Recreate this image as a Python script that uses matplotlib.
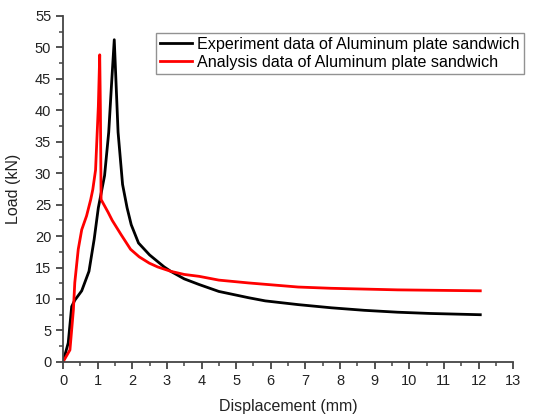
import numpy as np
import matplotlib.pyplot as plt
from matplotlib.ticker import MultipleLocator

plt.rcParams['font.family'] = ['Liberation Sans', 'DejaVu Sans']

# experiment (black)
exp_x = [0.0, 0.15, 0.25, 0.34, 0.54, 0.75, 0.90, 1.02, 1.20, 1.32, 1.40, 1.48,
         1.59, 1.72, 1.85, 1.97, 2.18, 2.50, 2.92, 3.11, 3.50, 3.93, 4.5, 5.36,
         5.84, 6.8, 7.75, 8.7, 9.66, 10.6, 12.05]
exp_y = [0.0, 3.0, 8.8, 9.8, 11.3, 14.4, 19.5, 24.5, 29.6, 36.5, 44.0, 51.2,
         36.5, 28.2, 24.5, 21.8, 18.9, 17.0, 15.1, 14.4, 13.2, 12.3, 11.2, 10.2,
         9.7, 9.1, 8.6, 8.2, 7.9, 7.7, 7.5]

# analysis (red)
ana_x = [0.0, 0.20, 0.30, 0.34, 0.44, 0.54, 0.68, 0.80, 0.86, 0.94, 1.02, 1.06,
         1.08, 1.10, 1.30, 1.42, 1.68, 1.95, 2.20, 2.49, 2.73, 3.11, 3.50, 3.93,
         4.5, 5.36, 6.79, 7.74, 9.66, 12.05]
ana_y = [0.0, 1.9, 8.3, 12.6, 17.9, 21.0, 23.2, 25.8, 27.4, 30.5, 40.6, 48.8,
         40.0, 25.8, 23.8, 22.5, 20.2, 17.9, 16.7, 15.7, 15.1, 14.4, 13.9, 13.6,
         13.0, 12.55, 11.9, 11.7, 11.45, 11.3]

fig = plt.figure(figsize=(5.34, 4.16), dpi=100)
ax = fig.add_axes([0.118, 0.130, 0.843, 0.832])

ax.plot(exp_x, exp_y, color='black', lw=2, label='Experiment data of Aluminum plate sandwich')
ax.plot(ana_x, ana_y, color='red', lw=2, label='Analysis data of Aluminum plate sandwich')

ax.set_xlim(0, 13)
ax.set_ylim(0, 55)
ax.xaxis.set_major_locator(MultipleLocator(1))
ax.xaxis.set_minor_locator(MultipleLocator(0.5))
ax.yaxis.set_major_locator(MultipleLocator(5))
ax.yaxis.set_minor_locator(MultipleLocator(2.5))
ax.spines['top'].set_visible(False)
ax.spines['right'].set_visible(False)
for s in ('left', 'bottom'):
    ax.spines[s].set_color('#444444')
    ax.spines[s].set_linewidth(1.3)
ax.tick_params(which='major', direction='out', length=5, width=1.3, color='#444444',
               labelsize=10.5, labelcolor='#222222')
ax.tick_params(which='minor', direction='out', length=3, width=1.1, color='#444444')

ax.set_xlabel('Displacement (mm)', fontsize=11.5, color='#222222', labelpad=8)
ax.set_ylabel('Load (kN)', fontsize=11.5, color='#222222', labelpad=10)

leg = fig.legend(loc='upper left', bbox_to_anchor=(0.292, 0.921), fontsize=11.6,
                 frameon=True, fancybox=False, edgecolor='#777777',
                 handlelength=2.0, handletextpad=0.3, borderpad=0.25,
                 labelspacing=0.2, borderaxespad=0)
leg.get_frame().set_linewidth(1.0)

fig.savefig('out.png', dpi=100)
